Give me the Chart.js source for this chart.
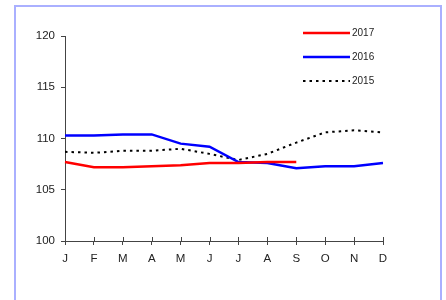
<!DOCTYPE html>
<html>
<head>
<meta charset="utf-8">
<script src="https://cdn.jsdelivr.net/npm/chart.js@4/dist/chart.umd.min.js"></script>
<style>
  html, body { margin:0; padding:0; background:#fff; }
  #wrap { position:relative; width:446px; height:300px; overflow:hidden; }
  #frame { position:absolute; left:14px; top:5px; width:424px; height:320px; border:2px solid #aab0ff; }
  #c { position:absolute; left:0; top:0; }
</style>
</head>
<body>
<div id="wrap">
  <div id="frame"></div>
  <canvas id="c" width="446" height="300"></canvas>
</div>
<script>
// --- Data ---
const months = ['J','F','M','A','M','J','J','A','S','O','N','D'];
const y2017 = [107.7, 107.2, 107.2, 107.3, 107.4, 107.6, 107.6, 107.7, 107.7, null, null, null];
const y2016 = [110.3, 110.3, 110.4, 110.4, 109.5, 109.2, 107.7, 107.6, 107.1, 107.3, 107.3, 107.6];
const y2015 = [108.7, 108.6, 108.8, 108.8, 109.0, 108.5, 107.9, 108.5, 109.6, 110.6, 110.8, 110.6];
const yTicks = [100, 105, 110, 115, 120];

const FONT = '"Liberation Sans", Arial, sans-serif';
const AXIS = '#444';

// legend drawn by hand, top right, like the original
const legendBox = {
  id: 'legendBox',
  afterDraw(chart){
    const ctx = chart.ctx;
    chart.data.datasets.forEach((ds, i) => {
      const y = 33 + i*24;
      ctx.save();
      ctx.strokeStyle = ds.borderColor;
      ctx.lineWidth = ds.borderWidth;
      ctx.setLineDash(ds.borderDash || []);
      ctx.beginPath(); ctx.moveTo(303, y); ctx.lineTo(350, y); ctx.stroke();
      ctx.setLineDash([]);
      ctx.fillStyle = '#222';
      ctx.font = '10px ' + FONT;
      ctx.textBaseline = 'middle';
      ctx.fillText(ds.label, 352, y + 0.5);
      ctx.restore();
    });
  }
};

// x ticks cross the axis (upper half added here)
const crossTicks = {
  id: 'crossTicks',
  afterDraw(chart){
    const ctx = chart.ctx, xs = chart.scales.x, b = chart.chartArea.bottom;
    ctx.save();
    ctx.strokeStyle = AXIS; ctx.lineWidth = 1;
    xs.ticks.forEach((t, i) => {
      const x = Math.round(xs.getPixelForTick(i)) + 0.5;
      ctx.beginPath(); ctx.moveTo(x, b - 4); ctx.lineTo(x, b); ctx.stroke();
    });
    ctx.restore();
  }
};

new Chart(document.getElementById('c'), {
  type: 'line',
  data: {
    labels: months,
    datasets: [
      { label:'2017', data:y2017, borderColor:'#ff0000', borderWidth:2.5, pointRadius:0, tension:0, spanGaps:false },
      { label:'2016', data:y2016, borderColor:'#0000ff', borderWidth:2.5, pointRadius:0, tension:0 },
      { label:'2015', data:y2015, borderColor:'#000000', borderWidth:2, borderDash:[2.5,4], pointRadius:0, tension:0 }
    ]
  },
  options: {
    responsive:false,
    animation:false,
    layout:{ padding:{ top:36, right:63, bottom:0, left:0 } },
    plugins:{ legend:{ display:false }, tooltip:{ enabled:false } },
    scales:{
      x:{
        offset:false,
        afterFit(s){ s.height = 59; },
        grid:{ drawOnChartArea:false, tickLength:4, color:AXIS },
        border:{ color:AXIS, width:1 },
        ticks:{ color:'#222', font:{ family:FONT, size:11.5 }, padding:7, maxRotation:0, autoSkip:false }
      },
      y:{
        min:100, max:120,
        afterFit(s){ s.width = 65; },
        afterBuildTicks(s){ s.ticks = yTicks.map(v => ({ value:v })); },
        grid:{ drawOnChartArea:false, tickLength:4, color:AXIS },
        border:{ color:AXIS, width:1 },
        ticks:{ color:'#222', font:{ family:FONT, size:11.5 }, padding:6 }
      }
    }
  },
  plugins:[legendBox, crossTicks]
});
</script>
</body>
</html>
